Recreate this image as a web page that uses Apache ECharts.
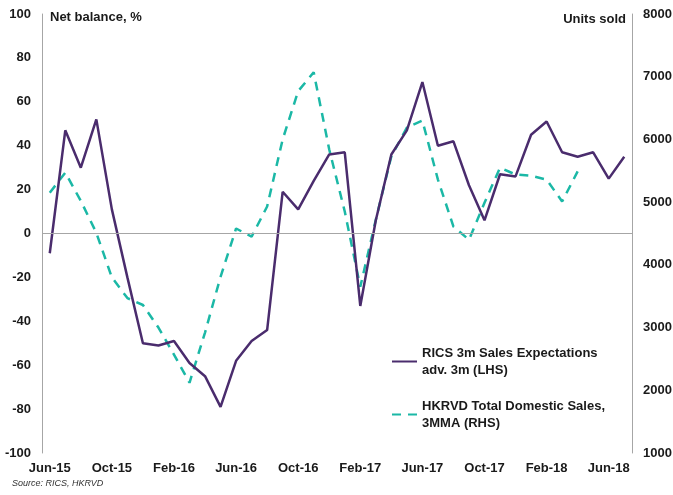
<!DOCTYPE html>
<html>
<head>
<meta charset="UTF-8">
<title>RICS vs HKRVD</title>
<script src="https://cdn.jsdelivr.net/npm/echarts@6/dist/echarts.min.js"></script>
<style>
  html, body { margin: 0; padding: 0; background: #fff; }
  #main { width: 673px; height: 495px; }
</style>
</head>
<body>
<div id="main"></div>
<script>
// months Jun-15 .. Jul-18
var months = ['Jun-15','Jul-15','Aug-15','Sep-15','Oct-15','Nov-15','Dec-15','Jan-16','Feb-16','Mar-16','Apr-16','May-16',
  'Jun-16','Jul-16','Aug-16','Sep-16','Oct-16','Nov-16','Dec-16','Jan-17','Feb-17','Mar-17','Apr-17','May-17',
  'Jun-17','Jul-17','Aug-17','Sep-17','Oct-17','Nov-17','Dec-17','Jan-18','Feb-18','Mar-18','Apr-18','May-18',
  'Jun-18','Jul-18'];
// RICS 3m sales expectations, net balance % (LHS)
var rics = [-9, 47, 30, 52, 11, -20, -50, -51, -49, -59, -65, -79,
  -58, -49, -44, 19, 11, 24, 36, 37, -33, 6, 36, 47,
  69, 40, 42, 22, 6, 27, 26, 45, 51, 37, 35, 37,
  25, 35];
// HKRVD total domestic sales 3MMA, units (RHS)
var hkrvd = [5150, 5470, 5020, 4510, 3800, 3470, 3360, 3000, 2570, 2120, 2920, 3810,
  4580, 4450, 4930, 6000, 6770, 7070, 5840, 4850, 3650, 4720, 5730, 6190,
  6300, 5360, 4610, 4400, 4990, 5550, 5440, 5420, 5360, 5010, 5490, null,
  null, null];

var purple = '#4a2c6d';
var teal = '#1bb8a6';
var grey = '#a6a6a6';
var font = 'Liberation Sans';

var chart = echarts.init(document.getElementById('main'));
var option = {
  animation: false,
  textStyle: { fontFamily: font },
  grid: { left: 42, right: 41, top: 14, bottom: 42, outerBoundsMode: 'none' },
  xAxis: {
    type: 'category',
    data: months,
    boundaryGap: true,
    axisLine: { show: false, onZero: false },
    axisTick: { show: false },
    axisLabel: {
      interval: 3, margin: 9,
      color: '#1a1a1a', fontWeight: 'bold', fontSize: 13, fontFamily: font
    }
  },
  yAxis: [{
    type: 'value', min: -100, max: 100, interval: 20,
    name: 'Net balance, %',
    nameLocation: 'end', nameGap: -10,
    nameTextStyle: { align: 'left', padding: [0, 0, 0, 8], color: '#1a1a1a', fontWeight: 'bold', fontSize: 13, fontFamily: font },
    axisLine: { show: true, onZero: false, lineStyle: { color: grey, width: 1 } },
    axisTick: { show: false },
    splitLine: { show: false },
    axisLabel: { margin: 11, color: '#1a1a1a', fontWeight: 'bold', fontSize: 13, fontFamily: font }
  }, {
    type: 'value', min: 1000, max: 8000, interval: 1000,
    name: 'Units sold',
    nameLocation: 'end', nameGap: -12,
    nameTextStyle: { align: 'right', padding: [0, 6, 0, 0], color: '#1a1a1a', fontWeight: 'bold', fontSize: 13, fontFamily: font },
    axisLine: { show: true, onZero: false, lineStyle: { color: grey, width: 1 } },
    axisTick: { show: false },
    splitLine: { show: false },
    axisLabel: {
      margin: 11, color: '#1a1a1a', fontWeight: 'bold', fontSize: 13, fontFamily: font,
      formatter: function (v) { return String(v); }
    }
  }],
  legend: {
    orient: 'vertical',
    left: 386, top: 331,
    itemGap: 2,
    itemWidth: 25, itemHeight: 12,
    itemStyle: { color: 'rgba(0,0,0,0)', borderColor: 'rgba(0,0,0,0)', borderWidth: 0 },
    textStyle: {
      color: '#1a1a1a', fontWeight: 'bold', fontSize: 13, fontFamily: font,
      lineHeight: 17, padding: [17, 0, 0, 0]
    },
    data: [
      { name: 'RICS 3m Sales Expectations\nadv. 3m (LHS)' },
      { name: 'HKRVD Total Domestic Sales,\n3MMA (RHS)' }
    ]
  },
  series: [{
    name: 'RICS 3m Sales Expectations\nadv. 3m (LHS)',
    type: 'line',
    yAxisIndex: 0,
    data: rics,
    symbol: 'none',
    z: 3,
    lineStyle: { color: purple, width: 2.5 },
    itemStyle: { color: purple },
    markLine: {
      silent: true, symbol: 'none', label: { show: false },
      lineStyle: { color: grey, width: 1, type: 'solid' },
      data: [{ yAxis: 0 }]
    }
  }, {
    name: 'HKRVD Total Domestic Sales,\n3MMA (RHS)',
    type: 'line',
    yAxisIndex: 1,
    data: hkrvd,
    symbol: 'none',
    z: 2,
    lineStyle: { color: teal, width: 2.5, type: [9, 7] },
    itemStyle: { color: teal }
  }],
  graphic: [{
    type: 'text', left: 12, top: 479,
    style: { text: 'Source: RICS, HKRVD', fill: '#333', font: 'italic 9px "Liberation Sans"' }
  }]
};
chart.setOption(option);
</script>
</body>
</html>
